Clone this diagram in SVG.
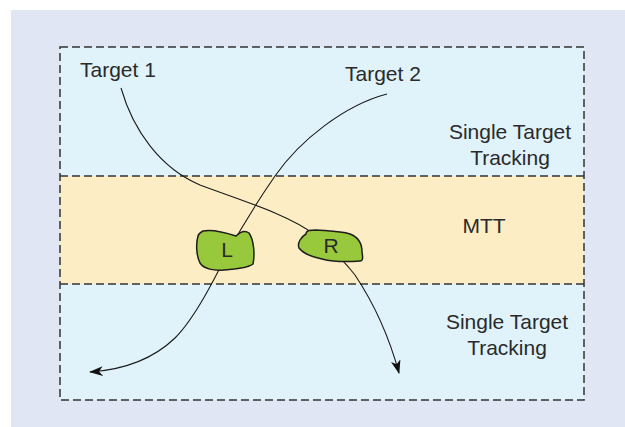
<svg xmlns="http://www.w3.org/2000/svg" width="625" height="427" viewBox="0 0 625 427">
  <style>
    .lbl { font-family: "Liberation Sans", Arial, sans-serif; font-size: 21px; fill: #2a2a2a; }
    .mid { text-anchor: middle; }
    .zone { stroke: none; }
    .dash { fill: none; stroke: #333; stroke-width: 1.5; stroke-dasharray: 8 4; }
    .blob { fill: #98c83c; stroke: #1e1e1e; stroke-width: 1.5; stroke-linejoin: round; }
    .track { fill: none; stroke: #1a1a1a; stroke-width: 1.1; }
  </style>
  <defs>
    <marker id="arrow" viewBox="0 0 14 10" refX="13" refY="5" markerWidth="14" markerHeight="10" markerUnits="userSpaceOnUse" orient="auto">
      <path d="M0,0 L14,5 L0,10 L4,5 Z" fill="#111"/>
    </marker>
  </defs>

  <!-- outer panel -->
  <rect x="11" y="10" width="614" height="417" fill="#e0e6f3"/>

  <!-- tracking zones -->
  <g id="zones">
    <rect class="zone" x="60" y="47" width="524" height="129" fill="#e0f3fb"/>
    <rect class="zone" x="60" y="176" width="524" height="108" fill="#fdedc5"/>
    <rect class="zone" x="60" y="284" width="524" height="116" fill="#e0f3fb"/>
    <rect class="dash" x="60" y="47" width="524" height="353"/>
    <line class="dash" x1="60" y1="176" x2="584" y2="176"/>
    <line class="dash" x1="60" y1="284" x2="584" y2="284"/>
    <text class="lbl mid" x="510" y="139">Single Target</text>
    <text class="lbl mid" x="510" y="165">Tracking</text>
    <text class="lbl mid" x="484" y="233">MTT</text>
    <text class="lbl mid" x="507" y="329">Single Target</text>
    <text class="lbl mid" x="507" y="355">Tracking</text>
  </g>

  <!-- target trajectories -->
  <g id="connectors">
    <path class="track" marker-end="url(#arrow)" d="M121,88 C133,130 160,168 200,185 C240,200 290,215 315,235 C333,250 345,262 355,275 C375,305 390,340 399,373"/>
    <path class="track" marker-end="url(#arrow)" d="M387,94 C345,105 300,140 275,176 C255,205 240,230 228,252 C215,278 195,318 175,338 C150,362 120,370 90,372"/>
  </g>

  <g id="target1">
    <text class="lbl" x="80" y="77">Target 1</text>
  </g>
  <g id="target2">
    <text class="lbl" x="345" y="81">Target 2</text>
  </g>

  <g id="nodeL">
    <path class="blob" d="M203,231 C212,229 224,232 236,236 C240,232 245,230 249,233 C254,240 255,255 253,264 C248,268 236,269 224,270 C214,271 204,269 200,263 C196,255 196,243 198,236 C199,233 201,232 203,231 Z"/>
    <text class="lbl mid" x="227" y="257">L</text>
  </g>
  <g id="nodeR">
    <path class="blob" d="M306,234 C306,230 311,230 316,230 C328,231 340,231 350,234 C358,237 362,244 362,252 C363,258 363,261 360,261 C348,262 334,262 322,259 C312,257 303,253 299,248 C297,243 301,237 306,234 Z"/>
    <text class="lbl mid" x="331" y="253">R</text>
  </g>
</svg>
